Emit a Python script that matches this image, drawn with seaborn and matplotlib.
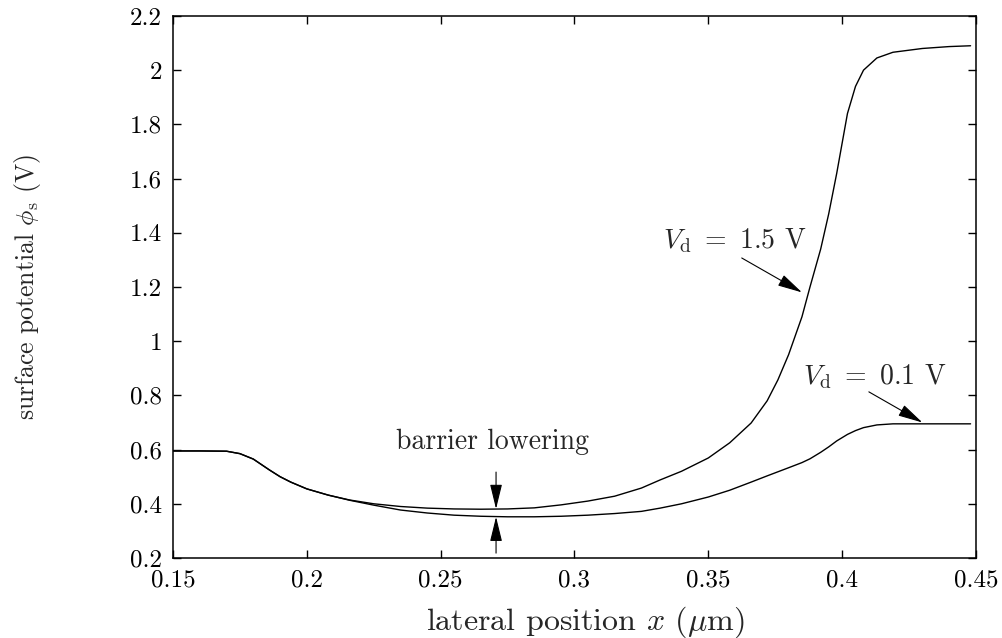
import pandas as pd
import seaborn as sns
import matplotlib.pyplot as plt

# lateral position (um) and surface potential (V) for the two drain voltages
x_pos = [0.15, 0.16, 0.17, 0.175, 0.18, 0.186, 0.19, 0.194, 0.2, 0.208, 0.216,
         0.225, 0.235, 0.245, 0.255, 0.265, 0.275, 0.285, 0.295, 0.305, 0.315,
         0.325, 0.332, 0.34, 0.35, 0.358, 0.366, 0.372, 0.376, 0.38, 0.385,
         0.388, 0.392, 0.395, 0.398, 0.402, 0.405, 0.408, 0.413, 0.419, 0.43,
         0.44, 0.448]
phi_vd15 = [0.595, 0.595, 0.594, 0.585, 0.565, 0.525, 0.50, 0.48, 0.455, 0.432,
            0.414, 0.400, 0.390, 0.384, 0.381, 0.380, 0.381, 0.385, 0.396, 0.41,
            0.428, 0.458, 0.488, 0.52, 0.569, 0.625, 0.698, 0.78, 0.857, 0.95,
            1.09, 1.2, 1.34, 1.47, 1.62, 1.84, 1.94, 2.0, 2.045, 2.066, 2.08,
            2.087, 2.09]
phi_vd01 = [0.595, 0.595, 0.594, 0.585, 0.565, 0.525, 0.50, 0.48, 0.455, 0.432,
            0.413, 0.395, 0.377, 0.366, 0.358, 0.354, 0.352, 0.352, 0.354, 0.358,
            0.364, 0.372, 0.384, 0.40, 0.425, 0.45, 0.48, 0.503, 0.518, 0.533,
            0.552, 0.566, 0.59, 0.61, 0.632, 0.656, 0.67, 0.681, 0.691, 0.695,
            0.695, 0.695, 0.695]

x_ticks = [0.15, 0.2, 0.25, 0.3, 0.35, 0.4, 0.45]
x_tick_labels = ['0.15', '0.2', '0.25', '0.3', '0.35', '0.4', '0.45']
y_ticks = [0.2, 0.4, 0.6, 0.8, 1.0, 1.2, 1.4, 1.6, 1.8, 2.0, 2.2]
y_tick_labels = ['0.2', '0.4', '0.6', '0.8', '1', '1.2', '1.4', '1.6', '1.8', '2', '2.2']

df = pd.DataFrame({
    'x': x_pos * 2,
    'phi': phi_vd15 + phi_vd01,
    'Vd': ['1.5'] * len(x_pos) + ['0.1'] * len(x_pos),
})

sns.set_style('ticks')
plt.rcParams['font.family'] = ['cmr10']
plt.rcParams['mathtext.fontset'] = 'cm'
plt.rcParams['axes.formatter.use_mathtext'] = True
fs_tick = 18
fs_xlabel = 23
fs_ylabel = 18.5
fs_text = 20

fig = plt.figure(figsize=(10.03, 6.38), dpi=100)
ax = fig.add_axes([0.1725, 0.1254, 0.8005, 0.8496])

sns.lineplot(data=df, x='x', y='phi', hue='Vd', palette=['black', 'black'],
             linewidth=1.0, legend=False, ax=ax, estimator=None, sort=False)

ax.set_xlim(0.15, 0.45)
ax.set_ylim(0.2, 2.2)
ax.set_xticks(x_ticks)
ax.set_xticklabels(x_tick_labels, fontsize=fs_tick)
ax.set_yticks(y_ticks)
ax.set_yticklabels(y_tick_labels, fontsize=fs_tick)
ax.tick_params(direction='in', top=True, right=True, length=6, width=1,
               pad=8, colors='black')
for s in ax.spines.values():
    s.set_linewidth(1.1)
    s.set_color('black')

ax.set_xlabel(r'lateral position $x$ ($\mu$m)', fontsize=fs_xlabel)
ax.xaxis.set_label_coords(0.514, -0.085)
ax.set_ylabel(r'surface potential $\phi_{\rm s}$ (V)', fontsize=fs_ylabel)
ax.yaxis.set_label_coords(-0.162, 0.5)

arrow = dict(arrowstyle='-|>,head_length=0.9,head_width=0.22', color='black',
             lw=0.8, shrinkA=0, shrinkB=0, mutation_scale=17)

ax.text(0.360, 1.37, r'$V_{\rm d}\ =\ 1.5$ V', fontsize=fs_text, ha='center', va='center')
ax.annotate('', xy=(0.385, 1.18), xytext=(0.3625, 1.307), arrowprops=arrow)

ax.text(0.412, 0.87, r'$V_{\rm d}\ =\ 0.1$ V', fontsize=fs_text, ha='center', va='center')
ax.annotate('', xy=(0.430, 0.70), xytext=(0.410, 0.813), arrowprops=arrow)

ax.text(0.2695, 0.63, 'barrier lowering', fontsize=fs_text, ha='center', va='center')
ax.annotate('', xy=(0.2707, 0.381), xytext=(0.2707, 0.517), arrowprops=arrow)
ax.annotate('', xy=(0.2707, 0.352), xytext=(0.2707, 0.218), arrowprops=arrow)

fig.savefig('out.png', dpi=100)
